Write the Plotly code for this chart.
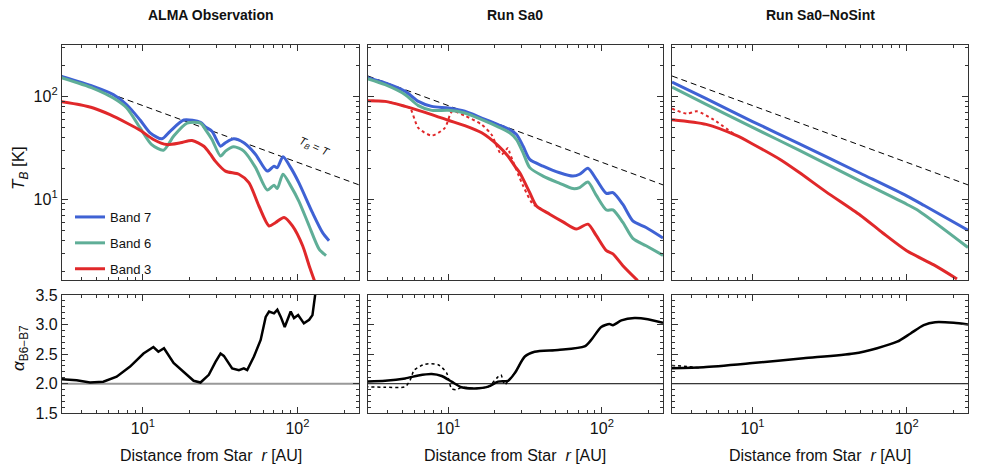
import plotly.graph_objects as go

# ---- data ----
# T_B = T reference line (straight in log-log)
temp_r = [3, 250]
temp_t = [158, 13.8]

# ALMA observation
obs_r_b7 = [2.9, 4.78, 6.44, 7.87, 9.6, 11.2, 13.3, 15.0, 18.4, 23.6, 25.4, 28.0, 31.8, 34.2, 38.7,
            45, 53.6, 63.8, 70.5, 74, 80.6, 90.4, 102, 125, 145, 160]
obs_t_b7 = [158, 125, 104, 83, 59, 44, 38.7, 45.8, 59, 56, 50.6, 45.8, 32.8, 35.4, 38.7,
            35.4, 27.3, 18.8, 21, 20.3, 25.9, 20.3, 14.5, 7.4, 4.76, 3.95]
obs_r_b6 = [2.9, 4.78, 6.44, 7.87, 9.6, 11.4, 13.6, 15.8, 19.3, 23.6, 25.4, 28, 31.8, 34.2, 38.7,
            45, 53.6, 63.8, 70.5, 74, 80.6, 90.4, 102, 119, 138, 153]
obs_t_b6 = [154, 120, 96.4, 77.2, 49.4, 34, 30, 41, 55, 55, 47.6, 38.1, 26.3, 29.4, 32.4,
            29.4, 20.3, 12.3, 13.7, 12.7, 17.5, 13.5, 9.6, 5.5, 3.28, 2.83]
obs_r_b3 = [2.9, 3.92, 4.78, 6.13, 7.87, 9.6, 11.7, 14.3, 17.5, 20.8, 24.8, 27.4, 29.4, 34.2,
            41.8, 48.5, 56.3, 65.5, 72.3, 81.9, 92.8, 108, 119, 131]
obs_t_b3 = [89.5, 83, 77.2, 66.5, 55.2, 46.9, 38.1, 34, 35.4, 37.3, 32.8, 27.3, 23.5, 18.8,
            17.5, 14.5, 8.6, 5.5, 5.95, 6.65, 5.5, 3.53, 2.26, 1.5]

# Run Sa0
sa0_r = [2.88, 3.88, 5.24, 6.38, 7.8, 10, 12.8, 16.5, 21.1, 25.1, 27.8, 30.7, 33.9, 41.4, 53.1,
         64.8, 71.6, 81.1, 92, 107, 118, 137, 159, 194, 250]
sa0_t_b7 = [154, 135, 112, 89.5, 80, 77, 71.7, 61.6, 53.2, 47.6, 42.6, 32.8, 24.4, 21, 18.1,
            16.8, 17.5, 20, 15.6, 11.4, 11.6, 8.9, 6.17, 5.32, 4.2]
sa0_t_b6 = [151, 130, 104, 81.3, 73.2, 73.2, 69, 59.4, 50.6, 44.3, 38.1, 28.3, 20.3, 16.8, 14.3,
            12.7, 13.0, 14.7, 10.9, 7.87, 7.87, 5.95, 4.17, 3.53, 2.85]
sa0_r_b3 = [2.88, 3.88, 5.24, 7.8, 10, 12.8, 16.5, 21.1, 24.5, 27.1, 29.2, 33.9, 37.5, 45.7,
            55.8, 68.2, 81.1, 92, 107, 118, 137, 171]
sa0_t_b3 = [90.8, 89.5, 80, 66.6, 58.6, 52, 44.3, 33.3, 26.2, 21, 18.1, 11.6, 8.6, 7.16,
            6.03, 5.13, 5.73, 4.42, 3.16, 2.94, 2.26, 1.62]
sa0_r_b3_sint = [2.88, 3.88, 5.24, 5.64, 6.38, 7.8, 9.5, 10.6, 12.8, 16.5, 19.1, 22.2, 24.5,
                 25.1, 30.7, 35.6, 37.5, 45.7]
sa0_t_b3_sint = [90.8, 89.5, 80, 77, 49.4, 41.7, 49.4, 71.6, 65, 53.2, 42.6, 27.3, 31.6,
                 28.3, 13.5, 8.9, 8.6, 7.16]

# Run Sa0-NoSint
ns_r_b7 = [3, 5, 10, 20, 50, 100, 130, 250]
ns_t_b7 = [138, 95, 57, 34.8, 17.9, 10.8, 8.7, 5.0]
ns_r_b6 = [3, 5, 10, 20, 50, 100, 120, 250]
ns_t_b6 = [123, 83.7, 50, 30, 15, 8.95, 7.7, 3.4]
ns_r_b3 = [3, 5, 7.9, 10, 15, 20, 30, 50, 70, 100, 150, 212]
ns_t_b3 = [59.4, 53.5, 41.5, 34.5, 24.5, 18.3, 11.8, 7.0, 4.7, 3.16, 2.3, 1.68]
ns_r_b3_sint = [3, 3.75, 4.36, 5.58, 7.5]
ns_t_b3_sint = [76, 68, 71.6, 59.4, 43.5]

# spectral index alpha B6-B7
alpha_ref_r = [3, 250]
alpha_ref = [2.0, 2.0]
obs_r_alpha = [2.9, 3.73, 4.55, 5.55, 6.77, 8.27, 10.1, 11.7, 12.6, 13.7, 15.8, 18.4, 21.3, 23.6,
               26.7, 29.5, 31.8, 33.4, 37.8, 41.8, 45, 47.3, 52.3, 57.8, 62.3, 65.5, 70.5, 74.1,
               78, 82.7, 90.4, 95, 101, 110, 119, 125, 131]
obs_alpha = [2.08, 2.06, 2.02, 2.035, 2.12, 2.29, 2.51, 2.62, 2.54, 2.6, 2.35, 2.2, 2.05, 2.02,
             2.15, 2.37, 2.51, 2.47, 2.26, 2.23, 2.26, 2.23, 2.46, 2.74, 3.13, 3.22, 3.19, 3.25,
             3.13, 2.96, 3.22, 3.11, 3.16, 3.02, 3.08, 3.16, 3.56]
sa0_r_alpha = [2.88, 3.88, 5.24, 6.38, 7.8, 9.06, 10.5, 12.2, 14.9, 18.2, 21.1, 24.5, 27.1, 31.5,
               36.5, 51.8, 77.1, 85.2, 99, 112, 118, 134, 163, 199, 250]
sa0_alpha = [2.035, 2.05, 2.09, 2.14, 2.165, 2.13, 2.035, 1.94, 1.92, 1.95, 2.035, 2.05, 2.18,
             2.46, 2.54, 2.57, 2.63, 2.74, 2.96, 3.01, 2.99, 3.07, 3.11, 3.09, 3.03]
sa0_r_alpha_sint = [2.88, 3.88, 5.24, 5.64, 6.0, 7.06, 8.6, 9.76, 10.5, 11.3, 12.2, 14.9, 18.2,
                    20.6, 22, 23.3, 24.5, 27.1]
sa0_alpha_sint = [1.95, 1.94, 1.95, 2.06, 2.23, 2.33, 2.32, 2.18, 1.92, 1.9, 1.94, 1.92, 1.95,
                  2.09, 2.15, 1.98, 2.05, 2.18]
ns_r_alpha = [3, 4.8, 10, 21.4, 45.3, 64.3, 86.7, 106, 129, 153, 202, 250]
ns_alpha = [2.26, 2.28, 2.35, 2.43, 2.51, 2.6, 2.71, 2.85, 2.99, 3.04, 3.03, 3.0]
ns_r_alpha_sint = [3, 3.75, 4.5]
ns_alpha_sint = [2.31, 2.29, 2.27]

titles = ["ALMA Observation", "Run Sa0", "Run Sa0\u2013NoSint"]

BLUE = "#3f62d4"
TEAL = "#5fae97"
RED = "#e0282a"
FONT = "Liberation Sans, Arial, sans-serif"

W, H = 981, 474
PAGE = 8  # default body margin of the html page
xdom = [(62, 359), (368, 663), (672, 968)]
top_y = (45, 280)
bot_y = (295, 413.3)


def fx(px):
    return (px - PAGE) / W


def fy(py):
    return 1 - (py - PAGE) / H


fig = go.Figure()


def line(x, y, ax, color, width=3, dash=None, name=None, legend=False, shape="spline"):
    fig.add_trace(go.Scatter(
        x=x, y=y, mode="lines", xaxis="x" + ax, yaxis="y" + ax,
        line=dict(color=color, width=width, dash=dash, shape=shape, smoothing=0.7),
        name=name, showlegend=legend, legendgroup=name, hoverinfo="skip"))


# top row
for ax in ["", "2", "3"]:
    line(temp_r, temp_t, ax, "black", width=1, dash="6px,4px", shape="linear")

line(obs_r_b7, obs_t_b7, "", BLUE, name="Band 7", legend=True)
line(obs_r_b6, obs_t_b6, "", TEAL, name="Band 6", legend=True)
line(obs_r_b3, obs_t_b3, "", RED, name="Band 3", legend=True)

line(sa0_r_b3_sint, sa0_t_b3_sint, "2", RED, width=2, dash="dot")
line(sa0_r, sa0_t_b7, "2", BLUE)
line(sa0_r, sa0_t_b6, "2", TEAL)
line(sa0_r_b3, sa0_t_b3, "2", RED)

line(ns_r_b3_sint, ns_t_b3_sint, "3", RED, width=2, dash="dot")
line(ns_r_b7, ns_t_b7, "3", BLUE)
line(ns_r_b6, ns_t_b6, "3", TEAL)
line(ns_r_b3, ns_t_b3, "3", RED)

# bottom row
line(alpha_ref_r, alpha_ref, "4", "#999999", width=2, shape="linear")
line(obs_r_alpha, obs_alpha, "4", "black", width=2.5, shape="linear")
line(alpha_ref_r, alpha_ref, "5", "black", width=1, shape="linear")
line(sa0_r_alpha_sint, sa0_alpha_sint, "5", "black", width=1.5, dash="dot")
line(sa0_r_alpha, sa0_alpha, "5", "black", width=2.5)
line(alpha_ref_r, alpha_ref, "6", "black", width=1, shape="linear")
line(ns_r_alpha_sint, ns_alpha_sint, "6", "black", width=1.5, dash="dot")
line(ns_r_alpha, ns_alpha, "6", "black", width=2.5)

common = dict(showline=True, linecolor="#333333", linewidth=1.3, mirror="allticks",
              ticks="inside", ticklen=6, tickwidth=1, tickcolor="#333333",
              showgrid=False, zeroline=False, automargin=False,
              tickfont=dict(size=16, family=FONT, color="#111"))

layout = {}
for i in range(6):
    k = "" if i == 0 else str(i + 1)
    col = i % 3
    top = i < 3
    x0, x1 = xdom[col]
    y0, y1 = top_y if top else bot_y
    xa = dict(common, type="log", range=[0.4771, 2.3979], domain=[fx(x0), fx(x1)],
              anchor="y" + k, tickvals=[10, 100],
              ticktext=["10<sup>1</sup>", "10<sup>2</sup>"], showticklabels=not top,
              minor=dict(ticks="inside", ticklen=3, tickcolor="#333333",
                         tickvals=[3, 4, 5, 6, 7, 8, 9, 20, 30, 40, 50, 60, 70, 80, 90, 200]))
    if top:
        ya = dict(common, type="log", range=[0.215, 2.5], domain=[fy(y1), fy(y0)],
                  anchor="x" + k, tickvals=[10, 100],
                  ticktext=["10<sup>1</sup>", "10<sup>2</sup>"], showticklabels=(col == 0),
                  minor=dict(ticks="inside", ticklen=3, tickcolor="#333333",
                             tickvals=[2, 3, 4, 5, 6, 7, 8, 9, 20, 30, 40, 50, 60, 70, 80, 90, 200, 300]))
    else:
        ya = dict(common, range=[1.5, 3.5], domain=[fy(y1), fy(y0)], anchor="x" + k,
                  dtick=0.5, tick0=1.5, tickformat=".1f", showticklabels=(col == 0),
                  minor=dict(ticks="inside", ticklen=3, dtick=0.1, tickcolor="#333333"))
    layout["xaxis" + k] = xa
    layout["yaxis" + k] = ya


def note(text, px, py, size, angle=0):
    return dict(text=text, x=fx(px), y=fy(py), xref="paper", yref="paper",
                xanchor="center", yanchor="middle", showarrow=False, textangle=angle,
                font=dict(size=size, family=FONT, color="#111"))


annotations = []
for col, t in enumerate(titles):
    x0, x1 = xdom[col]
    annotations.append(note("<b>" + t + "</b>", (x0 + x1) / 2, 15, 14))
    annotations.append(note("Distance from Star  <i>r</i> [AU]", (x0 + x1) / 2, 455, 16))
annotations.append(note("<i>T</i><sub><i>B</i></sub> [K]", 20, 168, 17, -90))
annotations.append(note("<i>α</i><sub>B6−B7</sub>", 20, 348, 17, -90))
annotations.append(note("<i>T<sub>B</sub></i> = <i>T</i>", 314, 147, 11, 24))

fig.update_layout(
    **layout,
    annotations=annotations,
    width=W, height=H,
    margin=dict(l=0, r=0, t=0, b=0),
    paper_bgcolor="white", plot_bgcolor="white",
    font=dict(family=FONT),
    legend=dict(x=fx(70), y=fy(202), xanchor="left", yanchor="top",
                bgcolor="rgba(0,0,0,0)", font=dict(size=13, family=FONT, color="#111"),
                itemwidth=30, tracegroupgap=6),
)

fig.write_html("out.html")
